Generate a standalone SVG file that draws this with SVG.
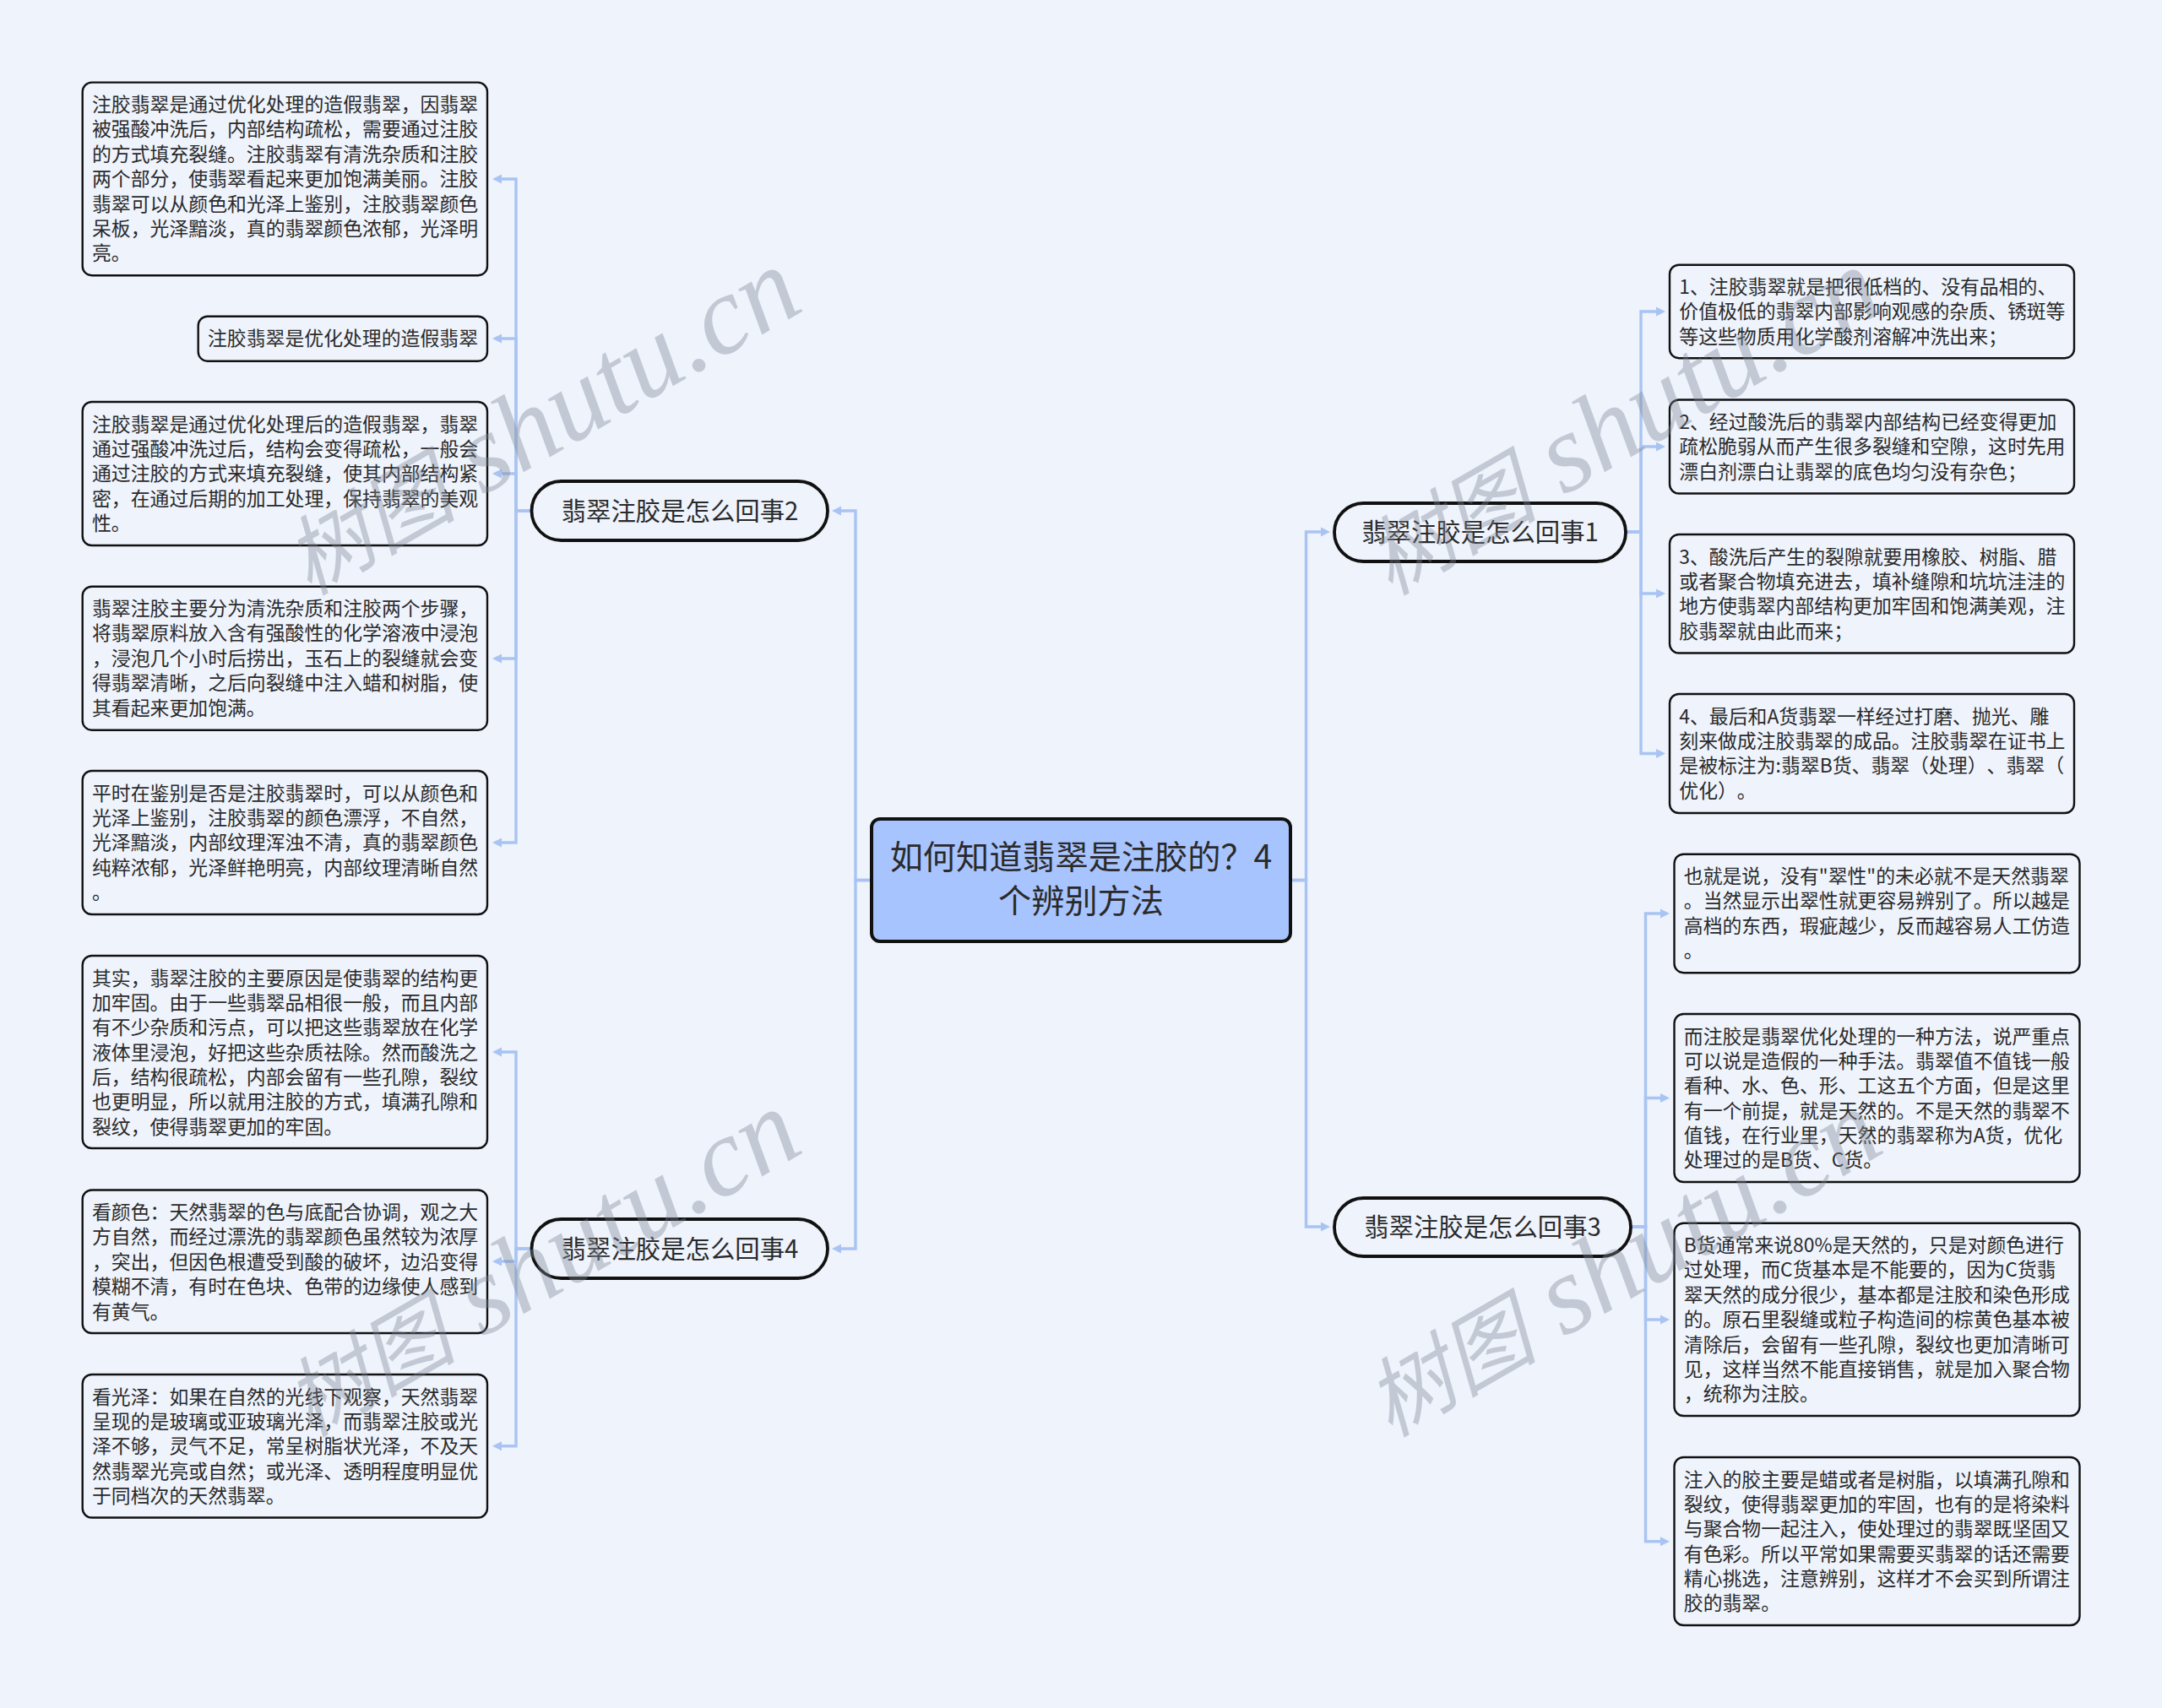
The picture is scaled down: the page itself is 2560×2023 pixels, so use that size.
<svg xmlns="http://www.w3.org/2000/svg" width="2560" height="2023" viewBox="0 0 2560 2023">
<style>
text{font-family:"Noto Sans CJK SC","Noto Sans",sans-serif;fill:#2a2a2a;text-spacing-trim:space-all;font-feature-settings:"chws" 0}
.t{font-size:22.86px}
.n{font-size:29.39px;text-anchor:middle}
.r{font-size:39.18px;text-anchor:middle}
.box{fill:#eef3fc;stroke:#111;stroke-width:2.4}
.pill{fill:#eef3fc;stroke:#111;stroke-width:3.8}
.root{fill:#a8c4fe;stroke:#111;stroke-width:4}
.c{fill:none;stroke:#a9c4f3;stroke-width:3.4;marker-end:url(#a)}
text.wm{font-family:"Noto Sans CJK SC",sans-serif;font-style:italic;font-size:102px;fill:#7f8794;fill-opacity:.38}
.wl{font-family:"Liberation Serif",serif;font-size:132px}
</style>
<defs><marker id="a" markerUnits="userSpaceOnUse" markerWidth="12" markerHeight="12" refX="0" refY="6" orient="auto"><path d="M0 .5L11 6L0 11.5z" fill="#a9c4f3"/></marker></defs>
<rect width="2560" height="2023" fill="#eef3fc"/>
<g id="connectors">
<path class="c" d="M1528 1042.5H1546.5V630H1564"/>
<path class="c" d="M1528 1042.5H1546.5V1453H1564"/>
<path class="c" d="M1032 1042.5H1013V605H996"/>
<path class="c" d="M1032 1042.5H1013V1479H996"/>
<path class="c" d="M629.5 605H611V212H594"/>
<path class="c" d="M629.5 605H611V401H594"/>
<path class="c" d="M629.5 605H611V561H594"/>
<path class="c" d="M629.5 605H611V780H594"/>
<path class="c" d="M629.5 605H611V998H594"/>
<path class="c" d="M629.5 1479H611V1246H594"/>
<path class="c" d="M629.5 1479H611V1494H594"/>
<path class="c" d="M629.5 1479H611V1712.8H594"/>
<path class="c" d="M1925 630H1943V369H1961"/>
<path class="c" d="M1925 630H1943V529H1961"/>
<path class="c" d="M1925 630H1943V703H1961"/>
<path class="c" d="M1925 630H1943V892.5H1961"/>
<path class="c" d="M1931 1453H1948.5V1082H1966"/>
<path class="c" d="M1931 1453H1948.5V1300.5H1966"/>
<path class="c" d="M1931 1453H1948.5V1563H1966"/>
<path class="c" d="M1931 1453H1948.5V1825.7H1966"/>
</g>
<g id="root"><rect class="root" x="1032" y="970" width="496" height="145" rx="10"/>
<text class="r" x="1280" y="1029">如何知道翡翠是注胶的？4</text><text class="r" x="1280" y="1081">个辨别方法</text></g>
<g id="n1"><rect class="pill" x="1580" y="596" width="345" height="69" rx="34.5"/><text class="n" x="1752.5" y="640.5">翡翠注胶是怎么回事1</text></g>
<g id="n2"><rect class="pill" x="629.5" y="570" width="350.5" height="70" rx="35"/><text class="n" x="805" y="615.5">翡翠注胶是怎么回事2</text></g>
<g id="n3"><rect class="pill" x="1580" y="1419" width="351" height="69" rx="34.5"/><text class="n" x="1755.5" y="1463.5">翡翠注胶是怎么回事3</text></g>
<g id="n4"><rect class="pill" x="629.5" y="1444" width="350.5" height="70" rx="35"/><text class="n" x="805" y="1489.5">翡翠注胶是怎么回事4</text></g>
<g id="b1"><rect class="box" x="97.7" y="97.6" width="479.3" height="228.6" rx="11"/><text class="t" y="132"><tspan x="109">注胶翡翠是通过优化处理的造假翡翠，因翡翠</tspan><tspan x="109" dy="29.39">被强酸冲洗后，内部结构疏松，需要通过注胶</tspan><tspan x="109" dy="29.39">的方式填充裂缝。注胶翡翠有清洗杂质和注胶</tspan><tspan x="109" dy="29.39">两个部分，使翡翠看起来更加饱满美丽。注胶</tspan><tspan x="109" dy="29.39">翡翠可以从颜色和光泽上鉴别，注胶翡翠颜色</tspan><tspan x="109" dy="29.39">呆板，光泽黯淡，真的翡翠颜色浓郁，光泽明</tspan><tspan x="109" dy="29.39">亮。</tspan></text></g>
<g id="b2"><rect class="box" x="234.7" y="374.7" width="342.3" height="53" rx="11"/><text class="t" y="409"><tspan x="246">注胶翡翠是优化处理的造假翡翠</tspan></text></g>
<g id="b3"><rect class="box" x="97.7" y="476" width="479.3" height="170" rx="11"/><text class="t" y="510.5"><tspan x="109">注胶翡翠是通过优化处理后的造假翡翠，翡翠</tspan><tspan x="109" dy="29.39">通过强酸冲洗过后，结构会变得疏松，一般会</tspan><tspan x="109" dy="29.39">通过注胶的方式来填充裂缝，使其内部结构紧</tspan><tspan x="109" dy="29.39">密，在通过后期的加工处理，保持翡翠的美观</tspan><tspan x="109" dy="29.39">性。</tspan></text></g>
<g id="b4"><rect class="box" x="97.7" y="694.7" width="479.3" height="170" rx="11"/><text class="t" y="729"><tspan x="109">翡翠注胶主要分为清洗杂质和注胶两个步骤，</tspan><tspan x="109" dy="29.39">将翡翠原料放入含有强酸性的化学溶液中浸泡</tspan><tspan x="109" dy="29.39">，浸泡几个小时后捞出，玉石上的裂缝就会变</tspan><tspan x="109" dy="29.39">得翡翠清晰，之后向裂缝中注入蜡和树脂，使</tspan><tspan x="109" dy="29.39">其看起来更加饱满。</tspan></text></g>
<g id="b5"><rect class="box" x="97.7" y="913" width="479.3" height="170" rx="11"/><text class="t" y="947.5"><tspan x="109">平时在鉴别是否是注胶翡翠时，可以从颜色和</tspan><tspan x="109" dy="29.39">光泽上鉴别，注胶翡翠的颜色漂浮，不自然，</tspan><tspan x="109" dy="29.39">光泽黯淡，内部纹理浑浊不清，真的翡翠颜色</tspan><tspan x="109" dy="29.39">纯粹浓郁，光泽鲜艳明亮，内部纹理清晰自然</tspan><tspan x="109" dy="29.39">。</tspan></text></g>
<g id="b6"><rect class="box" x="97.7" y="1132" width="479.3" height="228" rx="11"/><text class="t" y="1166.5"><tspan x="109">其实，翡翠注胶的主要原因是使翡翠的结构更</tspan><tspan x="109" dy="29.39">加牢固。由于一些翡翠品相很一般，而且内部</tspan><tspan x="109" dy="29.39">有不少杂质和污点，可以把这些翡翠放在化学</tspan><tspan x="109" dy="29.39">液体里浸泡，好把这些杂质祛除。然而酸洗之</tspan><tspan x="109" dy="29.39">后，结构很疏松，内部会留有一些孔隙，裂纹</tspan><tspan x="109" dy="29.39">也更明显，所以就用注胶的方式，填满孔隙和</tspan><tspan x="109" dy="29.39">裂纹，使得翡翠更加的牢固。</tspan></text></g>
<g id="b7"><rect class="box" x="97.7" y="1409.5" width="479.3" height="169.5" rx="11"/><text class="t" y="1444"><tspan x="109">看颜色：天然翡翠的色与底配合协调，观之大</tspan><tspan x="109" dy="29.39">方自然，而经过漂洗的翡翠颜色虽然较为浓厚</tspan><tspan x="109" dy="29.39">，突出，但因色根遭受到酸的破坏，边沿变得</tspan><tspan x="109" dy="29.39">模糊不清，有时在色块、色带的边缘使人感到</tspan><tspan x="109" dy="29.39">有黄气。</tspan></text></g>
<g id="b8"><rect class="box" x="97.7" y="1628" width="479.3" height="169.5" rx="11"/><text class="t" y="1662.5"><tspan x="109">看光泽：如果在自然的光线下观察，天然翡翠</tspan><tspan x="109" dy="29.39">呈现的是玻璃或亚玻璃光泽，而翡翠注胶或光</tspan><tspan x="109" dy="29.39">泽不够，灵气不足，常呈树脂状光泽，不及天</tspan><tspan x="109" dy="29.39">然翡翠光亮或自然；或光泽、透明程度明显优</tspan><tspan x="109" dy="29.39">于同档次的天然翡翠。</tspan></text></g>
<g id="r1"><rect class="box" x="1977" y="313.7" width="479" height="110.5" rx="11"/><text class="t" y="348"><tspan x="1988.3">1、注胶翡翠就是把很低档的、没有品相的、</tspan><tspan x="1988.3" dy="29.39">价值极低的翡翠内部影响观感的杂质、锈斑等</tspan><tspan x="1988.3" dy="29.39">等这些物质用化学酸剂溶解冲洗出来；</tspan></text></g>
<g id="r2"><rect class="box" x="1977" y="473.5" width="479" height="111" rx="11"/><text class="t" y="508"><tspan x="1988.3">2、经过酸洗后的翡翠内部结构已经变得更加</tspan><tspan x="1988.3" dy="29.39">疏松脆弱从而产生很多裂缝和空隙，这时先用</tspan><tspan x="1988.3" dy="29.39">漂白剂漂白让翡翠的底色均匀没有杂色；</tspan></text></g>
<g id="r3"><rect class="box" x="1977" y="633" width="479" height="140.5" rx="11"/><text class="t" y="667.5"><tspan x="1988.3">3、酸洗后产生的裂隙就要用橡胶、树脂、腊</tspan><tspan x="1988.3" dy="29.39">或者聚合物填充进去，填补缝隙和坑坑洼洼的</tspan><tspan x="1988.3" dy="29.39">地方使翡翠内部结构更加牢固和饱满美观，注</tspan><tspan x="1988.3" dy="29.39">胶翡翠就由此而来；</tspan></text></g>
<g id="r4"><rect class="box" x="1977" y="822" width="479" height="141" rx="11"/><text class="t" y="856.5"><tspan x="1988.3">4、最后和A货翡翠一样经过打磨、抛光、雕</tspan><tspan x="1988.3" dy="29.39">刻来做成注胶翡翠的成品。注胶翡翠在证书上</tspan><tspan x="1988.3" dy="29.39">是被标注为:翡翠B货、翡翠（处理）、翡翠（</tspan><tspan x="1988.3" dy="29.39">优化）。</tspan></text></g>
<g id="s1"><rect class="box" x="1982.5" y="1011.7" width="480" height="140.5" rx="11"/><text class="t" y="1046"><tspan x="1993.8">也就是说，没有"翠性"的未必就不是天然翡翠</tspan><tspan x="1993.8" dy="29.39">。当然显示出翠性就更容易辨别了。所以越是</tspan><tspan x="1993.8" dy="29.39">高档的东西，瑕疵越少，反而越容易人工仿造</tspan><tspan x="1993.8" dy="29.39">。</tspan></text></g>
<g id="s2"><rect class="box" x="1982.5" y="1201" width="480" height="199" rx="11"/><text class="t" y="1235.5"><tspan x="1993.8">而注胶是翡翠优化处理的一种方法，说严重点</tspan><tspan x="1993.8" dy="29.39">可以说是造假的一种手法。翡翠值不值钱一般</tspan><tspan x="1993.8" dy="29.39">看种、水、色、形、工这五个方面，但是这里</tspan><tspan x="1993.8" dy="29.39">有一个前提，就是天然的。不是天然的翡翠不</tspan><tspan x="1993.8" dy="29.39">值钱，在行业里，天然的翡翠称为A货，优化</tspan><tspan x="1993.8" dy="29.39">处理过的是B货、C货。</tspan></text></g>
<g id="s3"><rect class="box" x="1982.5" y="1448.7" width="480" height="228.3" rx="11"/><text class="t" y="1483"><tspan x="1993.8">B货通常来说80%是天然的，只是对颜色进行</tspan><tspan x="1993.8" dy="29.39">过处理，而C货基本是不能要的，因为C货翡</tspan><tspan x="1993.8" dy="29.39">翠天然的成分很少，基本都是注胶和染色形成</tspan><tspan x="1993.8" dy="29.39">的。原石里裂缝或粒子构造间的棕黄色基本被</tspan><tspan x="1993.8" dy="29.39">清除后，会留有一些孔隙，裂纹也更加清晰可</tspan><tspan x="1993.8" dy="29.39">见，这样当然不能直接销售，就是加入聚合物</tspan><tspan x="1993.8" dy="29.39">，统称为注胶。</tspan></text></g>
<g id="s4"><rect class="box" x="1982.5" y="1726" width="480" height="199" rx="11"/><text class="t" y="1760.5"><tspan x="1993.8">注入的胶主要是蜡或者是树脂，以填满孔隙和</tspan><tspan x="1993.8" dy="29.39">裂纹，使得翡翠更加的牢固，也有的是将染料</tspan><tspan x="1993.8" dy="29.39">与聚合物一起注入，使处理过的翡翠既坚固又</tspan><tspan x="1993.8" dy="29.39">有色彩。所以平常如果需要买翡翠的话还需要</tspan><tspan x="1993.8" dy="29.39">精心挑选，注意辨别，这样才不会买到所谓注</tspan><tspan x="1993.8" dy="29.39">胶的翡翠。</tspan></text></g>
<g id="watermarks">
<text class="wm" transform="translate(366 706) rotate(-30)">树图<tspan class="wl"> shutu.cn</tspan></text>
<text class="wm" transform="translate(1646 706) rotate(-30)">树图<tspan class="wl"> shutu.cn</tspan></text>
<text class="wm" transform="translate(366 1703) rotate(-30)">树图<tspan class="wl"> shutu.cn</tspan></text>
<text class="wm" transform="translate(1646 1703) rotate(-30)">树图<tspan class="wl"> shutu.cn</tspan></text>
</g>
</svg>
